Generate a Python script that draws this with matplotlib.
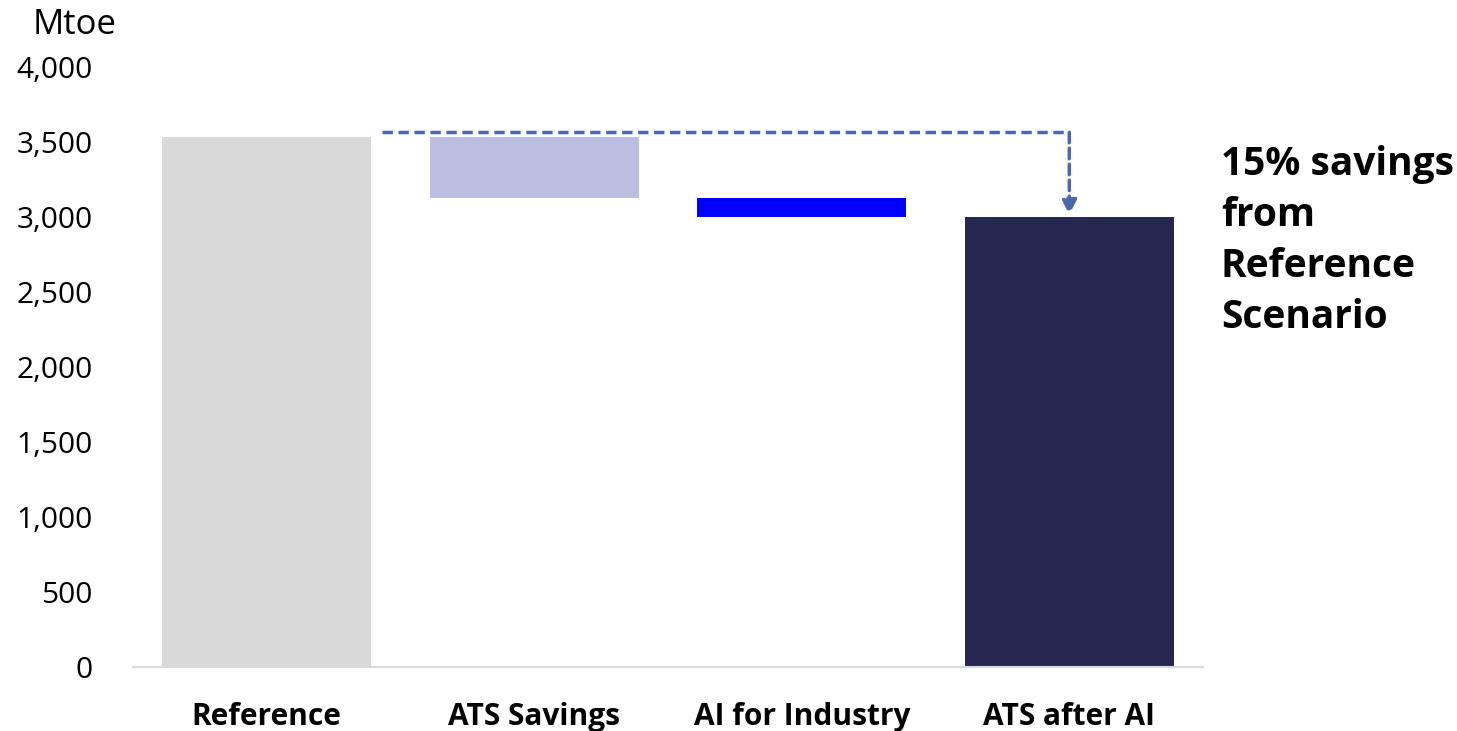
import matplotlib.pyplot as plt
from matplotlib import rcParams
import numpy as np

categories = ["Reference", "ATS Savings", "AI for Industry", "ATS after AI"]
reference = 3535
ats_savings = 405
ai_industry = 130
ats_after_ai = reference - ats_savings - ai_industry
colors = ["#d9d9d9", "#bcbfe1", "#0000ff", "#262852"]
y_ticks = [0, 500, 1000, 1500, 2000, 2500, 3000, 3500, 4000]
note = "15% savings\nfrom\nReference\nScenario"

rcParams['font.family'] = ['Open Sans', 'DejaVu Sans']

fig = plt.figure(figsize=(14.57, 7.31), dpi=100)
ax = fig.add_axes([0.0913, 0.0876, 0.7344, 0.8207])

x = np.arange(len(categories))
bottoms = [0, reference - ats_savings, reference - ats_savings - ai_industry, 0]
heights = [reference, ats_savings, ai_industry, ats_after_ai]
ax.bar(x, heights, bottom=bottoms, width=0.78, color=colors, zorder=2)

# dashed connector from reference level down to final bar
line_y = reference + 30
ax.plot([x[0] + 0.43, x[3]], [line_y, line_y], ls=(0, (3, 1.6)), color="#4a68ad", lw=2.5, zorder=3)
ax.annotate("", xy=(x[3], ats_after_ai + 15), xytext=(x[3], line_y),
            arrowprops=dict(arrowstyle="-|>", color="#4a68ad", lw=2.5, ls=(0, (3, 1.6)),
                            mutation_scale=22, shrinkA=0, shrinkB=0), zorder=3)

ax.set_xlim(-0.5, 3.5)
ax.set_ylim(0, 4000)
ax.set_yticks(y_ticks)
ax.set_yticklabels([f"{v:,}" for v in y_ticks], fontsize=21.5)
ax.set_xticks(x)
ax.set_xticklabels(categories, fontsize=21.5, fontweight="bold")
ax.tick_params(axis="y", length=0, pad=29)
ax.tick_params(axis="x", length=0, pad=25.5)

for s in ["top", "right", "left"]:
    ax.spines[s].set_visible(False)
ax.spines["bottom"].set_color("#d9d9d9")
ax.spines["bottom"].set_linewidth(1.5)

fig.text(0.0226, 0.966, "Mtoe", fontsize=25, va="center", ha="left")
fig.text(0.838, 0.801, note, fontsize=28, fontweight="bold", va="top", ha="left", linespacing=1.4)

plt.savefig("out.png")
